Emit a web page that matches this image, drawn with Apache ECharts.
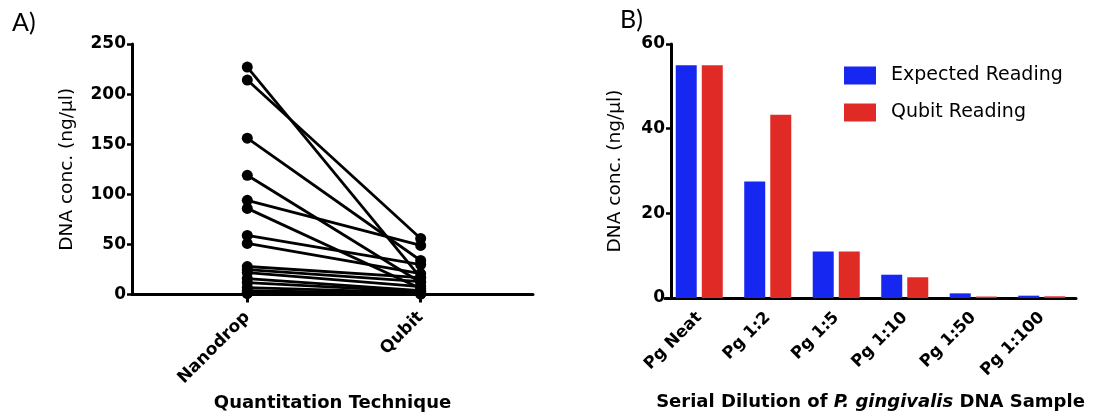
<!DOCTYPE html>
<html>
<head>
<meta charset="utf-8">
<script src="https://cdn.jsdelivr.net/npm/echarts@6/dist/echarts.min.js"></script>
<style>
  html, body { margin: 0; padding: 0; background: #fff; }
  #main { width: 1097px; height: 417px; }
</style>
</head>
<body>
<div id="main"></div>
<script>
// panel A: paired readings per sample
var techniques = ['Nanodrop', 'Qubit'];
var nanodrop = [227, 214, 156, 119, 94, 86, 59, 51, 28, 25, 22, 16, 12, 7, 4, 2, 1];
var qubit    = [17, 56, 34, 12, 49, 6, 30, 21, 17, 13, 8, 4, 3, 2, 1, 1, 0.5];

// panel B: serial dilution
var dilutions = ['Pg Neat', 'Pg 1:2', 'Pg 1:5', 'Pg 1:10', 'Pg 1:50', 'Pg 1:100'];
var expected = [55, 27.5, 11, 5.5, 1.1, 0.55];
var qubitReading = [55, 43.3, 11, 4.9, 0.35, 0.4];

var FONT = '"DejaVu Sans", sans-serif';
var chart = echarts.init(document.getElementById('main'));

var lineSeries = nanodrop.map(function (n, i) {
  return {
    type: 'line',
    xAxisIndex: 0,
    yAxisIndex: 0,
    data: [[0, n], [1, qubit[i]]],
    symbol: 'circle',
    symbolSize: 11,
    clip: false,
    itemStyle: { color: '#000' },
    lineStyle: { color: '#000', width: 2.8 },
    emphasis: { disabled: true },
    z: 3
  };
});

var axisLine = { show: true, onZero: false, lineStyle: { color: '#000', width: 3 } };

var option = {
  animation: false,
  textStyle: { fontFamily: FONT },
  graphic: [
    { type: 'text', left: 12, top: 10, style: { text: 'A)', font: '25px Lato, sans-serif', fill: '#000' } },
    { type: 'text', left: 620, top: 7, style: { text: 'B)', font: '25px Lato, sans-serif', fill: '#000' } }
  ],
  grid: [
    { left: 132, top: 44, width: 401, height: 254 },
    { left: 665, top: 44, width: 411, height: 254 }
  ],
  legend: {
    orient: 'vertical',
    left: 844,
    top: 66,
    padding: 0,
    itemWidth: 32,
    itemHeight: 18,
    itemGap: 18,
    icon: 'rect',
    data: ['Expected Reading', 'Qubit Reading'],
    textStyle: { fontSize: 19, color: '#000', fontFamily: FONT, padding: [0, 0, 0, 10] }
  },
  xAxis: [
    {
      gridIndex: 0,
      type: 'value',
      min: -0.665,
      max: 1.648,
      name: 'Quantitation Technique',
      nameLocation: 'middle',
      nameGap: 99,
      nameTextStyle: { fontSize: 18, fontWeight: 'bold', color: '#000' },
      axisLine: axisLine,
      splitLine: { show: false },
      axisTick: { show: true, customValues: [0, 1], length: 8, lineStyle: { color: '#000', width: 3 } },
      axisLabel: {
        customValues: [0, 1],
        rotate: 45,
        margin: 20,
        fontSize: 17,
        fontWeight: 'bold',
        color: '#000',
        formatter: function (v) { return techniques[Math.round(v)] || ''; }
      }
    },
    {
      gridIndex: 1,
      type: 'category',
      data: dilutions,
      name: '{b|Serial Dilution of }{i|P. gingivalis}{b| DNA Sample}',
      nameLocation: 'middle',
      nameGap: 95,
      nameTextStyle: {
        rich: {
          b: { fontSize: 18, fontWeight: 'bold', color: '#000', fontFamily: FONT },
          i: { fontSize: 18, fontWeight: 'bold', fontStyle: 'italic', color: '#000', fontFamily: FONT }
        }
      },
      axisLine: axisLine,
      axisTick: { alignWithLabel: true, length: 8, lineStyle: { color: '#000', width: 3 } },
      axisLabel: { rotate: 45, margin: 17, fontSize: 16.5, fontWeight: 'bold', color: '#000', interval: 0 }
    }
  ],
  yAxis: [
    {
      gridIndex: 0,
      type: 'value',
      min: 0,
      max: 250,
      interval: 50,
      name: 'DNA conc. (ng/µl)',
      nameLocation: 'middle',
      nameGap: 55,
      nameTextStyle: { fontSize: 18.5, color: '#000' },
      axisLine: axisLine,
      splitLine: { show: false },
      axisTick: { show: true, length: 5, lineStyle: { color: '#000', width: 2.5 } },
      axisLabel: { margin: 6, fontSize: 17, fontWeight: 'bold', color: '#000' }
    },
    {
      gridIndex: 1,
      type: 'value',
      min: 0,
      max: 60,
      interval: 20,
      offset: -6,
      name: 'DNA conc. (ng/µl)',
      nameLocation: 'middle',
      nameGap: 46,
      nameTextStyle: { fontSize: 18.5, color: '#000' },
      axisLine: axisLine,
      splitLine: { show: false },
      axisTick: { show: true, length: 5, lineStyle: { color: '#000', width: 2.5 } },
      axisLabel: { margin: 6, fontSize: 17, fontWeight: 'bold', color: '#000' }
    }
  ],
  series: lineSeries.concat([
    {
      name: 'Expected Reading',
      type: 'bar',
      xAxisIndex: 1,
      yAxisIndex: 1,
      data: expected,
      barWidth: 21,
      barGap: '24%',
      itemStyle: { color: '#1727F2' }
    },
    {
      name: 'Qubit Reading',
      type: 'bar',
      xAxisIndex: 1,
      yAxisIndex: 1,
      data: qubitReading,
      barWidth: 21,
      barGap: '24%',
      itemStyle: { color: '#E02A26' }
    }
  ])
};

chart.setOption(option);
</script>
</body>
</html>
